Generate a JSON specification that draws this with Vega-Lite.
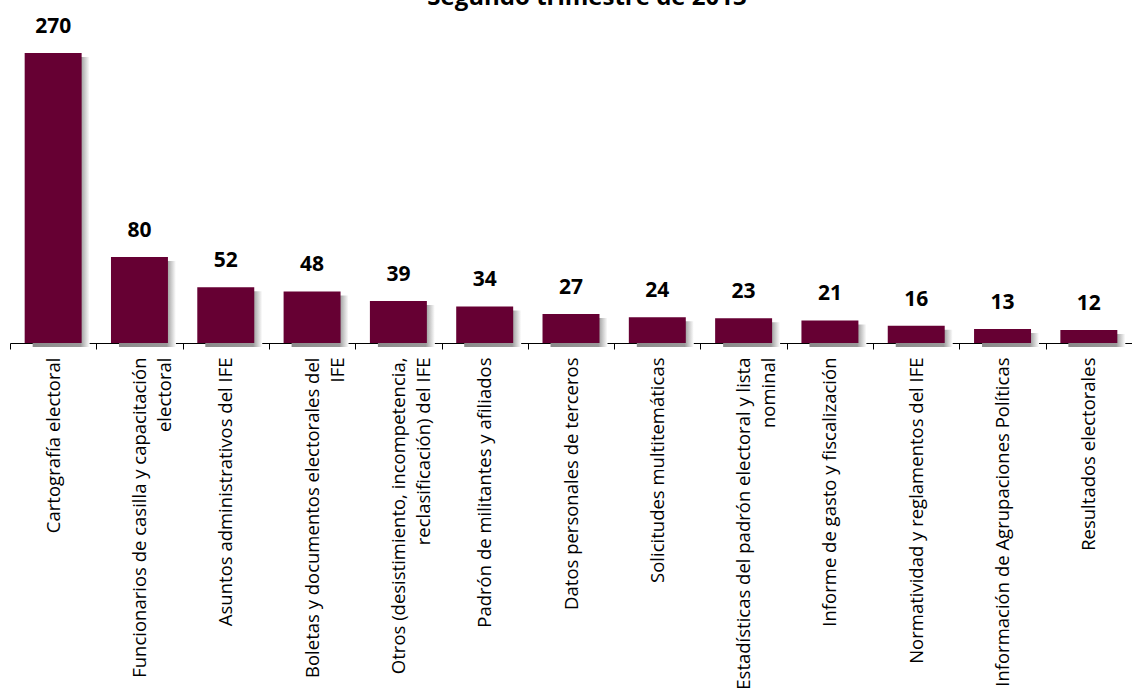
{
  "$schema": "https://vega.github.io/schema/vega-lite/v6.json",
  "width": 1122,
  "height": 313,
  "autosize": {"type": "none"},
  "padding": {"left": 10, "top": 30, "right": 0, "bottom": 346},
  "background": "white",
  "title": {
    "text": "Segundo trimestre de 2013",
    "font": "Open Sans",
    "fontSize": 24,
    "fontWeight": "bold",
    "color": "#000000",
    "anchor": "middle",
    "baseline": "alphabetic",
    "offset": 9,
    "dx": 16,
    "dy": 22
  },
  "data": {
    "values": [
      {"tema": "Cartografía electoral", "valor": 270},
      {"tema": "Funcionarios de casilla y capacitación|electoral", "valor": 80},
      {"tema": "Asuntos administrativos del IFE", "valor": 52},
      {"tema": "Boletas y documentos electorales del|IFE", "valor": 48},
      {"tema": "Otros (desistimiento, incompetencia,|reclasificación) del IFE", "valor": 39},
      {"tema": "Padrón de militantes y afiliados", "valor": 34},
      {"tema": "Datos personales de terceros", "valor": 27},
      {"tema": "Solicitudes multitemáticas", "valor": 24},
      {"tema": "Estadísticas del padrón electoral y lista|nominal", "valor": 23},
      {"tema": "Informe de gasto y fiscalización", "valor": 21},
      {"tema": "Normatividad y reglamentos del IFE", "valor": 16},
      {"tema": "Información de Agrupaciones Políticas", "valor": 13},
      {"tema": "Resultados electorales", "valor": 12}
    ]
  },
  "encoding": {
    "x": {
      "field": "tema",
      "type": "nominal",
      "sort": null,
      "scale": {"paddingInner": 0.34, "paddingOuter": 0.17},
      "axis": {
        "title": null,
        "labelAngle": 270,
        "labelAlign": "right",
        "labelBaseline": "middle",
        "labelFont": "Open Sans",
        "labelFontSize": 18.5,
        "labelColor": "#000000",
        "labelLimit": 0,
        "labelLineHeight": 25,
        "labelPadding": 8,
        "labelExpr": "split(datum.label, '|')",
        "ticks": true,
        "tickSize": 6,
        "tickColor": "#000000",
        "tickWidth": 1,
        "bandPosition": 0.5,
        "tickOffset": -43.15,
        "labelOffset": 43.15,
        "domainColor": "#000000",
        "domainWidth": 1,
        "grid": false
      }
    },
    "y": {
      "field": "valor",
      "type": "quantitative",
      "scale": {"domain": [0, 291.4], "nice": false},
      "axis": null
    }
  },
  "layer": [
    {
      "mark": {
        "type": "bar",
        "xOffset": 8,
        "yOffset": 4,
        "y2Offset": 0,
        "color": {
          "gradient": "linear",
          "x1": 0, "y1": 0, "x2": 1, "y2": 0,
          "stops": [
            {"offset": 0, "color": "#8a8a8a"},
            {"offset": 0.84, "color": "#9a9a9a"},
            {"offset": 1, "color": "#ffffff"}
          ]
        }
      }
    },
    {
      "mark": {"type": "bar", "color": "#660033"}
    },
    {
      "mark": {
        "type": "text",
        "font": "Open Sans",
        "fontSize": 21,
        "fontWeight": "bold",
        "color": "#000000",
        "baseline": "alphabetic",
        "dy": -20
      },
      "encoding": {"text": {"field": "valor", "type": "quantitative"}}
    }
  ],
  "config": {"view": {"stroke": null}}
}
